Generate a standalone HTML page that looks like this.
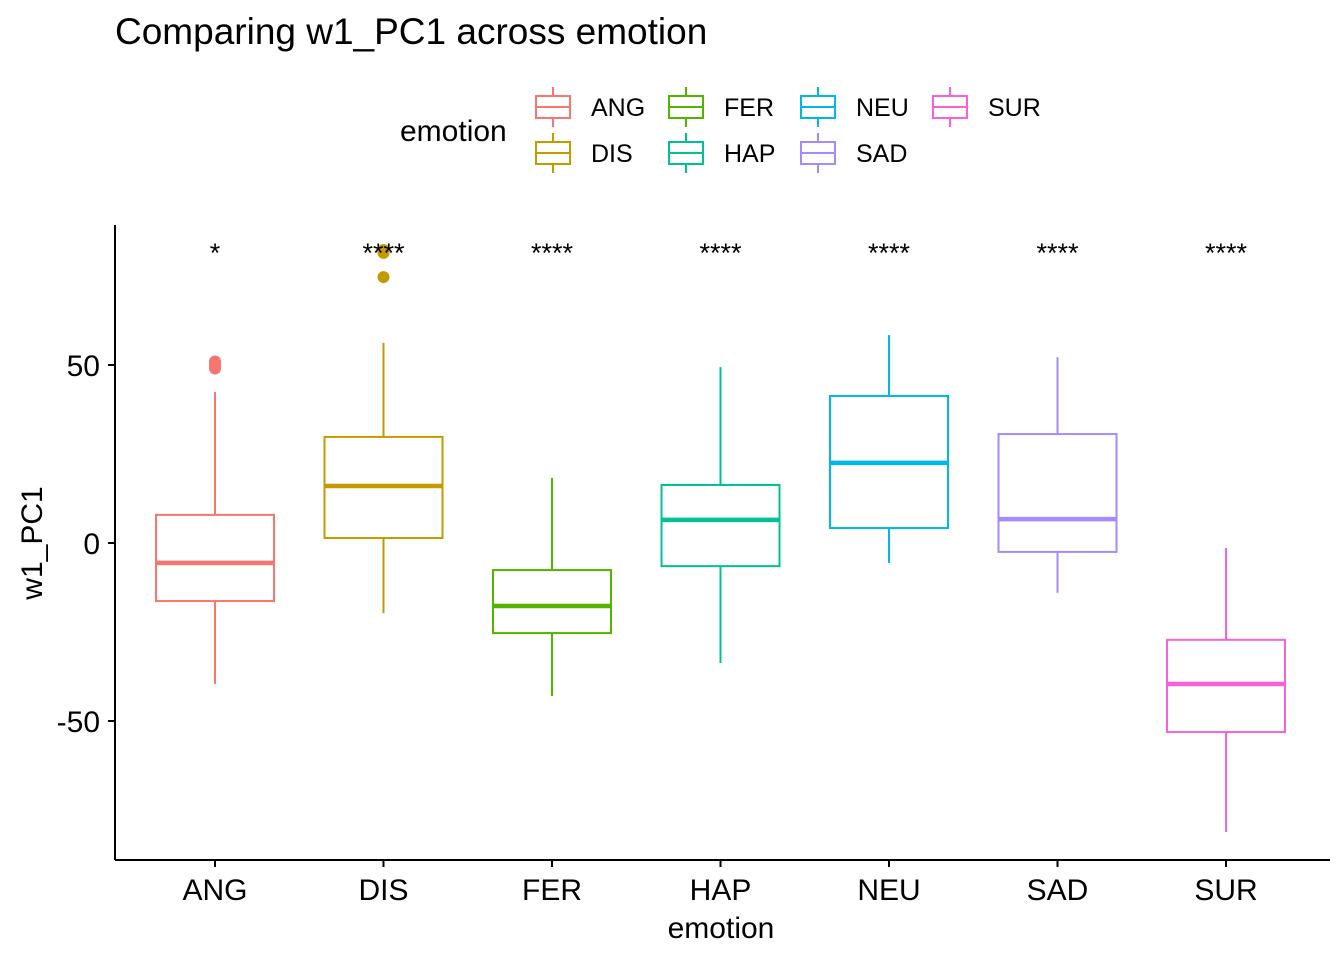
<!DOCTYPE html>
<html><head><meta charset="utf-8"><style>
body{margin:0;background:#fff;}
svg text{font-family:"Liberation Sans",Arial,sans-serif;}
</style></head><body>
<svg id="chart" width="1344" height="960" xmlns="http://www.w3.org/2000/svg">
<text x="115" y="44" font-size="37" fill="#000">Comparing w1_PC1 across emotion</text>
<g id="legend"></g>
<g id="plot"></g>
</svg>
<script>
const categories=["ANG","DIS","FER","HAP","NEU","SAD","SUR"];
const colors=["#F8766D","#C49A00","#53B400","#00C094","#00B6EB","#A58AFF","#FB61D7"];
const whiskerLow=[-39.6,-19.7,-43,-33.7,-5.6,-14,-81.2];
const q1=[-16.3,1.4,-25.3,-6.5,4.2,-2.5,-53.1];
const medians=[-5.6,16,-17.7,6.5,22.5,6.7,-39.6];
const q3=[7.9,29.8,-7.6,16.3,41.3,30.6,-27.2];
const whiskerHigh=[42.4,56.2,18.3,49.4,58.4,52.2,-1.4];
const outliers=[[49,50,51],[74.7,81.5,82.3],[],[],[],[],[]];
const sigLabels=["*","****","****","****","****","****","****"];
const sigY=82.8;
const yTicks=[-50,0,50];
const NS="http://www.w3.org/2000/svg";
const plot=document.getElementById('plot'),leg=document.getElementById('legend');
const X0=115,X1=1330,Y0=225,Y1=860;
function y(v){return 543-v*3.56;}
const step=168.5;
function x(i){return 215+step*i;}
function mk(tag,a,p,txt){const e=document.createElementNS(NS,tag);for(const k in a)e.setAttribute(k,a[k]);if(txt!==undefined)e.textContent=txt;p.appendChild(e);return e;}
let e=mk('line',{x1:X0,y1:Y0,x2:X0,y2:Y1,stroke:'#000','stroke-width':2},plot);


e=mk('line',{x1:X0,y1:Y1,x2:X1,y2:Y1,stroke:'#000','stroke-width':2},plot);


yTicks.forEach(t=>{
 e=mk('line',{x1:X0-7,y1:y(t),x2:X0,y2:y(t),stroke:'#000','stroke-width':2},plot);
 
 
 e=mk('text',{x:X0-15,y:y(t)+11,'font-size':30,'text-anchor':'end'},plot,t);
 
 
});
e=mk('text',{x:0,y:0,'font-size':30,'text-anchor':'middle',transform:'translate(42,543) rotate(-90)'},plot,'w1_PC1');


e=mk('text',{x:721,y:938,'font-size':30,'text-anchor':'middle'},plot,'emotion');


const bw=118;
categories.forEach((c,i)=>{
 const cx=x(i),col=colors[i];
 const g=mk('g',{},plot);
 
 
 mk('line',{x1:cx,y1:y(whiskerHigh[i]),x2:cx,y2:y(q3[i]),stroke:col,'stroke-width':2},g);
 mk('line',{x1:cx,y1:y(q1[i]),x2:cx,y2:y(whiskerLow[i]),stroke:col,'stroke-width':2},g);
 mk('rect',{x:cx-bw/2,y:y(q3[i]),width:bw,height:y(q1[i])-y(q3[i]),fill:'#fff',stroke:col,'stroke-width':2},g);
 mk('line',{x1:cx-bw/2,y1:y(medians[i]),x2:cx+bw/2,y2:y(medians[i]),stroke:col,'stroke-width':4.5},g);
 outliers[i].forEach(o=>{mk('circle',{cx:cx,cy:y(o),r:6,fill:col},g);});
 e=mk('line',{x1:cx,y1:Y1,x2:cx,y2:Y1+7,stroke:'#000','stroke-width':2},plot);
 
 
 e=mk('text',{x:cx,y:900,'font-size':30,'text-anchor':'middle'},plot,c);
 
 
 e=mk('text',{x:cx,y:y(sigY)+14,'font-size':27,'text-anchor':'middle'},plot,sigLabels[i]);
 
 
});
e=mk('text',{x:400,y:141,'font-size':30},leg,'emotion');


const legPos=[[535,107],[535,153],[668,107],[668,153],[800,107],[800,153],[932,107]];
categories.forEach((c,i)=>{
 const [lx,ly]=legPos[i],col=colors[i];
 const g=mk('g',{},leg);
 
 
 mk('line',{x1:lx+18,y1:ly-20,x2:lx+18,y2:ly+20,stroke:col,'stroke-width':2},g);
 mk('rect',{x:lx+1,y:ly-11,width:34,height:22,fill:'#fff',stroke:col,'stroke-width':2},g);
 mk('line',{x1:lx+1,y1:ly,x2:lx+35,y2:ly,stroke:col,'stroke-width':2},g);
 mk('text',{x:lx+56,y:ly+9,'font-size':25},g,c);
});
</script>
</body></html>
